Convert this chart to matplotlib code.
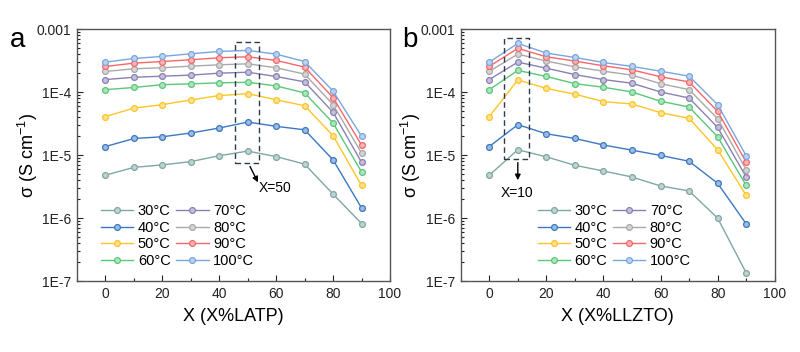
import numpy as np
import matplotlib
matplotlib.use("Agg")
import matplotlib.pyplot as plt
from matplotlib.patches import Rectangle
from matplotlib.ticker import FixedLocator, FixedFormatter, LogLocator, NullFormatter, MultipleLocator
from matplotlib.colors import to_rgb

plt.rcParams['font.family'] = ['Liberation Sans', 'DejaVu Sans']
plt.rcParams['mathtext.fontset'] = 'custom'
plt.rcParams['mathtext.rm'] = 'Liberation Sans'
plt.rcParams['mathtext.it'] = 'Liberation Sans:italic'

x_vals = [0, 10, 20, 30, 40, 50, 60, 70, 80, 90]
temps = ["30°C", "40°C", "50°C", "60°C", "70°C", "80°C", "90°C", "100°C"]
colors = ['#7fa8a3', '#3b78c2', '#fdc527', '#5ac77a', '#8a80b5', '#a9a9a9', '#f7676a', '#78a6de']

latp_30 = [4.8e-6, 6.4e-6, 7.0e-6, 7.9e-6, 9.8e-6, 1.16e-5, 9.5e-6, 7.2e-6, 2.4e-6, 8.2e-7]
latp_40 = [1.37e-5, 1.84e-5, 1.96e-5, 2.25e-5, 2.7e-5, 3.36e-5, 2.87e-5, 2.53e-5, 8.4e-6, 1.45e-6]
latp_50 = [4.1e-5, 5.6e-5, 6.35e-5, 7.55e-5, 8.85e-5, 9.5e-5, 7.6e-5, 6.1e-5, 2.04e-5, 3.3e-6]
latp_60 = [1.10e-4, 1.19e-4, 1.32e-4, 1.36e-4, 1.41e-4, 1.44e-4, 1.26e-4, 9.75e-5, 3.24e-5, 5.4e-6]
latp_70 = [1.59e-4, 1.73e-4, 1.80e-4, 1.87e-4, 2.01e-4, 2.08e-4, 1.78e-4, 1.46e-4, 4.8e-5, 7.7e-6]
latp_80 = [2.14e-4, 2.36e-4, 2.45e-4, 2.60e-4, 2.73e-4, 2.83e-4, 2.45e-4, 1.94e-4, 6.35e-5, 1.08e-5]
latp_90 = [2.57e-4, 2.90e-4, 3.08e-4, 3.28e-4, 3.53e-4, 3.66e-4, 3.20e-4, 2.51e-4, 8.2e-5, 1.45e-5]
latp_100 = [3.01e-4, 3.44e-4, 3.71e-4, 4.09e-4, 4.45e-4, 4.62e-4, 4.03e-4, 3.08e-4, 1.04e-4, 2.0e-5]

llzto_30 = [4.8e-6, 1.22e-5, 9.4e-6, 6.9e-6, 5.6e-6, 4.5e-6, 3.24e-6, 2.7e-6, 1.0e-6, 1.35e-7]
llzto_40 = [1.37e-5, 3.05e-5, 2.19e-5, 1.84e-5, 1.45e-5, 1.20e-5, 9.9e-6, 8.0e-6, 3.57e-6, 8.1e-7]
llzto_50 = [4.1e-5, 1.57e-4, 1.15e-4, 9.3e-5, 7.1e-5, 6.5e-5, 4.74e-5, 3.85e-5, 1.22e-5, 2.3e-6]
llzto_60 = [1.10e-4, 2.22e-4, 1.78e-4, 1.37e-4, 1.20e-4, 1.01e-4, 7.18e-5, 5.83e-5, 1.96e-5, 3.3e-6]
llzto_70 = [1.59e-4, 3.01e-4, 2.41e-4, 1.91e-4, 1.59e-4, 1.39e-4, 1.01e-4, 8.1e-5, 2.76e-5, 4.5e-6]
llzto_80 = [2.14e-4, 4.04e-4, 3.13e-4, 2.54e-4, 2.16e-4, 1.87e-4, 1.37e-4, 1.10e-4, 3.8e-5, 5.9e-6]
llzto_90 = [2.57e-4, 4.98e-4, 3.66e-4, 3.13e-4, 2.63e-4, 2.27e-4, 1.76e-4, 1.46e-4, 4.98e-5, 7.7e-6]
llzto_100 = [3.01e-4, 5.98e-4, 4.19e-4, 3.57e-4, 2.97e-4, 2.57e-4, 2.16e-4, 1.80e-4, 6.35e-5, 9.8e-6]

latp = [latp_30, latp_40, latp_50, latp_60, latp_70, latp_80, latp_90, latp_100]
llzto = [llzto_30, llzto_40, llzto_50, llzto_60, llzto_70, llzto_80, llzto_90, llzto_100]

ytick_vals = [1e-7, 1e-6, 1e-5, 1e-4, 1e-3]
ytick_labels = ["1E-7", "1E-6", "1E-5", "1E-4", "0.001"]

fig = plt.figure(figsize=(8.0, 3.52), dpi=100)
ax1 = fig.add_axes([0.09625, 0.2017, 0.39125, 0.715])
ax2 = fig.add_axes([0.5759, 0.2017, 0.3925, 0.715])

def lighten(c, f=0.5):
    r, g, b = to_rgb(c)
    return (r + (1 - r) * f, g + (1 - g) * f, b + (1 - b) * f)

def style(ax, xlabel, legend_x):
    ax.set_yscale('log')
    ax.set_xlim(-10, 100)
    ax.set_ylim(1e-7, 1e-3)
    ax.yaxis.set_major_locator(FixedLocator(ytick_vals))
    ax.yaxis.set_major_formatter(FixedFormatter(ytick_labels))
    ax.yaxis.set_minor_locator(LogLocator(base=10, subs=np.arange(2, 10), numticks=20))
    ax.yaxis.set_minor_formatter(NullFormatter())
    ax.xaxis.set_major_locator(MultipleLocator(20))
    ax.xaxis.set_minor_locator(MultipleLocator(10))
    ax.tick_params(which='both', direction='in', labelsize=10, colors='#222222', width=0.8)
    ax.tick_params(which='major', length=4, pad=4)
    ax.tick_params(which='minor', length=2)
    for s in ax.spines.values():
        s.set_color('#555555')
        s.set_linewidth(1.0)
    ax.set_xlabel(xlabel, fontsize=13, labelpad=5)
    ax.set_ylabel(r'σ (S cm$^{-1}$)', fontsize=13, labelpad=-2)
    ax.legend(loc='upper left', bbox_to_anchor=(legend_x, 0.305), ncol=2,
              frameon=False, fontsize=10.5, handlelength=2.2, handletextpad=0.3,
              columnspacing=0.4, labelspacing=0.18, borderpad=0, borderaxespad=0)

for ax, data in [(ax1, latp), (ax2, llzto)]:
    for vals, lab, c in zip(data, temps, colors):
        ax.plot(x_vals, vals, '-o', color=c, lw=1.0, ms=4.2, mfc=lighten(c), mec=c,
                mew=0.9, label=lab)

style(ax1, 'X (X%LATP)', 0.078)
style(ax2, 'X (X%LLZTO)', 0.247)

# dashed boxes
ax1.add_patch(Rectangle((45.5, 7.45e-6), 8.5, 6.3e-4 - 7.45e-6, fill=False,
                        ls=(0, (4, 2.5)), lw=1.0, ec='#2f3a4a', zorder=5))
ax2.add_patch(Rectangle((5.3, 8.7e-6), 8.5, 7.36e-4 - 8.7e-6, fill=False,
                        ls=(0, (4, 2.5)), lw=1.0, ec='#2f3a4a', zorder=5))

arrow_kw = dict(arrowstyle='-|>', color='black', lw=1.0, mutation_scale=8,
                shrinkA=0, shrinkB=0)
ax1.annotate('', xy=(53.6, 3.7e-6), xytext=(50.8, 6.6e-6), arrowprops=arrow_kw)
ax1.text(54.0, 3.0e-6, 'X=50', fontsize=10, ha='left', va='center')
ax2.annotate('', xy=(10, 4.0e-6), xytext=(10, 7.6e-6), arrowprops=arrow_kw)
ax2.text(9.7, 2.5e-6, 'X=10', fontsize=10, ha='center', va='center')

fig.text(0.012, 0.885, 'a', fontsize=20, ha='left', va='center')
fig.text(0.503, 0.885, 'b', fontsize=20, ha='left', va='center')

fig.savefig('out.png', dpi=100)
